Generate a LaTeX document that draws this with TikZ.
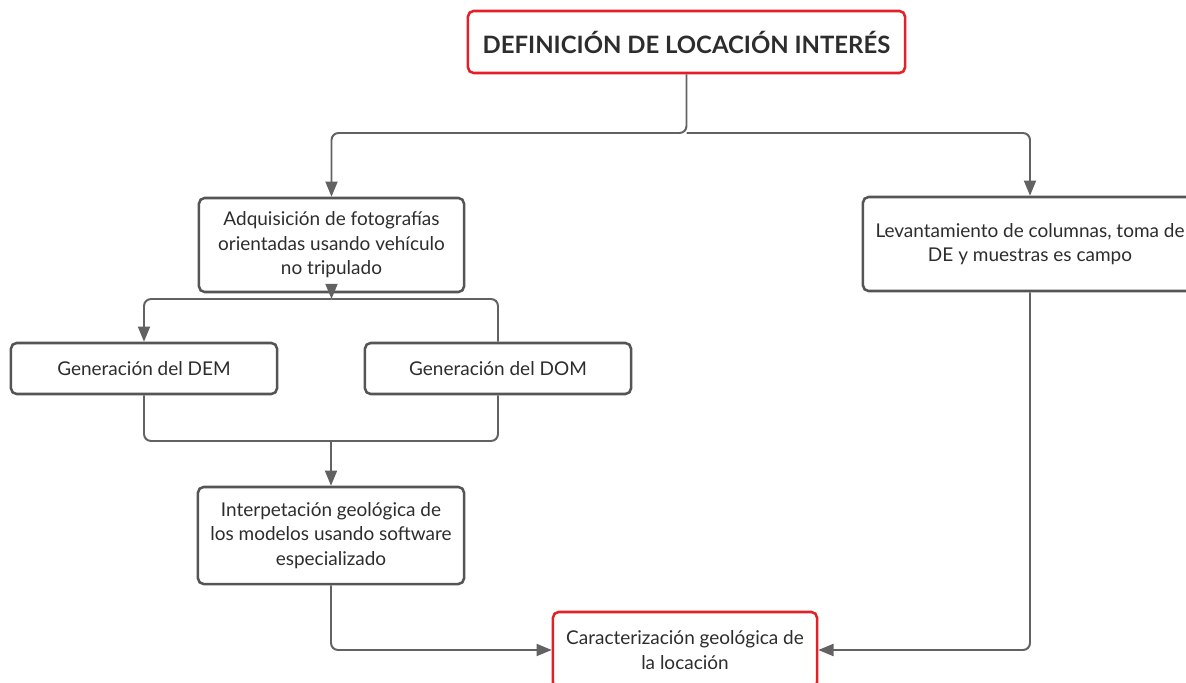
\documentclass[tikz,border=0pt]{standalone}
\usepackage{fontspec}
\setmainfont{Lato}
\usepackage{xcolor}
\definecolor{grislinea}{RGB}{98, 98, 98}
\definecolor{grisborde}{RGB}{85, 85, 85}
\definecolor{rojos}{RGB}{226, 32, 38}
\definecolor{texto}{RGB}{45, 45, 45}
\usepackage{tikz}
\usetikzlibrary{arrows.meta, positioning}

\begin{document}
\begin{tikzpicture}[x=0.025cm, y=-0.025cm,
        caja/.style={draw=grisborde, line width=1.8pt, rounded corners=4pt, fill=white,
            align=center, inner sep=0pt, text=texto, font=\fontsize{13.5pt}{17.4pt}\selectfont},
        cajaroja/.style={caja, draw=rojos},
        conn/.style={draw=grislinea, line width=1.4pt, rounded corners=5pt,
            -{Triangle[length=0.38cm, width=0.3cm]}},
        linea/.style={conn, -}]
        \useasboundingbox (0,0) rectangle (1186,683);
        % Cajas del diagrama
        \node[cajaroja, minimum width=10.925cm, minimum height=1.55cm,
            font=\fontsize{17pt}{19pt}\selectfont\bfseries] (def) at (686.5,42) {DEFINICIÓN DE LOCACIÓN INTERÉS};
        \node[caja, minimum width=6.625cm, minimum height=2.35cm] (adq) at (331.5,245) {Adquisición de fotografías\\orientadas usando vehículo\\no tripulado};
        \node[caja, minimum width=8.35cm, minimum height=2.35cm] (lev) at (1030,244) {Levantamiento de columnas, toma de\\DE y muestras es campo};
        \node[caja, minimum width=6.65cm, minimum height=1.275cm] (dem) at (144,368.5) {Generación del DEM};
        \node[caja, minimum width=6.65cm, minimum height=1.275cm] (dom) at (498,368.5) {Generación del DOM};
        \node[caja, minimum width=6.65cm, minimum height=2.425cm] (interp) at (331,535.5) {Interpetación geológica de\\los modelos usando software\\especializado};
        \node[cajaroja, minimum width=6.6cm, minimum height=1.9cm] (carac) at (685,650) {Caracterización geológica de\\la locación};
        % Puntos de unión
        \coordinate (u1) at (686.5,133);
        \coordinate (u2) at (331.5,299);
        \coordinate (u3) at (331,441);
        % Conectores
        \draw[conn] (def.south) -- (u1) -| (adq.north);
        \draw[conn] (u1) -| (lev.north);
        \draw[conn] (adq.south) -- (u2);
        \draw[conn] (u2) -| (dem.north);
        \draw[linea] (u2) -| (dom.north);
        \draw[linea] (dem.south) |- (u3) -| (dom.south);
        \draw[conn] (u3) -- (interp.north);
        \draw[conn] (interp.south) |- (carac.west);
        \draw[conn] (lev.south) |- (carac.east);
    \end{tikzpicture}
\end{document}
